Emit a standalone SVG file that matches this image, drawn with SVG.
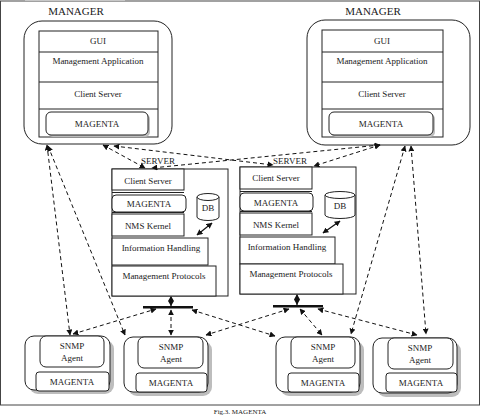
<svg xmlns="http://www.w3.org/2000/svg" width="482" height="416" viewBox="0 0 482 416">
<defs>
<style>
.t{font-family:"Liberation Serif","Times New Roman",serif;font-size:9px;fill:#1a1a1a;text-anchor:middle}
.big{font-size:11px}
.b{fill:#fff;stroke:#222;stroke-width:1}
.sh{fill:#bdbdbd;stroke:none}
.d{fill:none;stroke:#111;stroke-width:1;stroke-dasharray:4 3;marker-start:url(#ah);marker-end:url(#ah)}
.s{fill:none;stroke:#111;stroke-width:1.2;marker-start:url(#ah);marker-end:url(#ah)}
</style>
<marker id="ah" viewBox="0 0 10 10" refX="9" refY="5" markerWidth="6" markerHeight="6" orient="auto-start-reverse" markerUnits="userSpaceOnUse">
<path d="M0,0 L10,5 L0,10 z" fill="#111"/>
</marker>
</defs>
<rect x="0.5" y="1" width="479" height="404" fill="#fff" stroke="#444" stroke-width="1"/>
<line x1="25" y1="0.5" x2="125" y2="0.5" stroke="#c8c8c8" stroke-width="1"/>

<g id="manager-left">
<text class="t big" x="76" y="15">MANAGER</text>
<rect class="b" x="24" y="21" width="148" height="123" rx="18"/>
<rect class="b" x="39" y="31" width="119" height="106"/>
<line x1="39" y1="52" x2="158" y2="52" stroke="#222"/>
<line x1="39" y1="82" x2="158" y2="82" stroke="#222"/>
<line x1="39" y1="109" x2="158" y2="109" stroke="#222"/>
<rect class="sh" x="48" y="114" width="102" height="23" rx="5"/>
<rect class="b" x="46" y="112" width="102" height="23" rx="5"/>
<text class="t" x="98" y="44">GUI</text>
<text class="t" x="98" y="64">Management Application</text>
<text class="t" x="98" y="97">Client Server</text>
<text class="t" x="97" y="127">MAGENTA</text>
</g>

<g id="manager-right">
<text class="t big" x="373" y="15">MANAGER</text>
<rect class="b" x="307" y="20" width="163" height="125" rx="18"/>
<rect class="b" x="322" y="30" width="121" height="107"/>
<line x1="322" y1="52" x2="443" y2="52" stroke="#222"/>
<line x1="322" y1="82" x2="443" y2="82" stroke="#222"/>
<line x1="322" y1="109" x2="443" y2="109" stroke="#222"/>
<rect class="sh" x="331" y="114" width="104" height="23" rx="5"/>
<rect class="b" x="329" y="112" width="104" height="23" rx="5"/>
<text class="t" x="382" y="44">GUI</text>
<text class="t" x="382" y="64">Management Application</text>
<text class="t" x="382" y="97">Client Server</text>
<text class="t" x="381" y="127">MAGENTA</text>
</g>

<g id="server-left">
<text class="t" x="158" y="164">SERVER</text>
<rect class="b" x="112" y="169" width="116" height="127"/>
<rect class="b" x="112" y="169" width="72" height="21"/>
<line x1="112" y1="192.5" x2="184" y2="192.5" stroke="#222"/>
<rect class="b" x="112" y="195" width="74" height="17" rx="4"/>
<line x1="112" y1="212.5" x2="184" y2="212.5" stroke="#222"/>
<rect class="b" x="112" y="214" width="72" height="22"/>
<rect class="b" x="112" y="238" width="96" height="27"/>
<rect class="b" x="112" y="266" width="104" height="30"/>
<path class="b" d="M197,197 v20 a11,3.5 0 0 0 22,0 v-20"/>
<ellipse class="b" cx="208" cy="197" rx="11" ry="3.5"/>
<text class="t" x="148" y="184">Client Server</text>
<text class="t" x="149" y="207">MAGENTA</text>
<text class="t" x="208" y="211">DB</text>
<text class="t" x="148" y="229">NMS Kernel</text>
<text class="t" x="161" y="251">Information Handling</text>
<text class="t" x="164" y="279">Management Protocols</text>
</g>

<g id="server-right">
<text class="t" x="290" y="164">SERVER</text>
<rect class="b" x="240" y="167" width="116" height="127"/>
<rect class="b" x="240" y="167" width="72" height="22"/>
<line x1="240" y1="191.5" x2="312" y2="191.5" stroke="#222"/>
<rect class="b" x="240" y="193" width="73" height="18" rx="4"/>
<line x1="240" y1="211.5" x2="312" y2="211.5" stroke="#222"/>
<rect class="b" x="240" y="213" width="72" height="22"/>
<rect class="b" x="240" y="237" width="95" height="27"/>
<rect class="b" x="240" y="264" width="103" height="30"/>
<path class="b" d="M325,195 v20 a15,3.5 0 0 0 30,0 v-20"/>
<ellipse class="b" cx="340" cy="195" rx="15" ry="3.5"/>
<text class="t" x="276" y="181">Client Server</text>
<text class="t" x="276" y="206">MAGENTA</text>
<text class="t" x="340" y="209">DB</text>
<text class="t" x="276" y="228">NMS Kernel</text>
<text class="t" x="287" y="250">Information Handling</text>
<text class="t" x="291" y="277">Management Protocols</text>
</g>

<g id="bus-left">
<rect x="143" y="306" width="50" height="2.5" fill="#111"/>
<line x1="171" y1="306" x2="171" y2="297" stroke="#111" stroke-width="1.2"/>
<path d="M171,296 L174,301 L171,306 L168,301 z" fill="#111"/>
</g>
<g id="bus-right">
<rect x="273" y="305" width="50" height="2.5" fill="#111"/>
<line x1="297" y1="305" x2="297" y2="295" stroke="#111" stroke-width="1.2"/>
<path d="M297,294 L300,299.5 L297,305 L294,299.5 z" fill="#111"/>
</g>

<g id="agent-1">
<rect class="sh" x="29" y="340" width="85" height="54" rx="9"/>
<rect class="b" x="25" y="336" width="85" height="54" rx="9"/>
<rect class="b" x="40" y="336" width="64" height="31" rx="6"/>
<rect class="b" x="36" y="372" width="73" height="19" rx="3"/>
<text class="t" x="72" y="349">SNMP</text>
<text class="t" x="72" y="361">Agent</text>
<text class="t" x="72" y="385">MAGENTA</text>
</g>
<g id="agent-2">
<rect class="sh" x="128" y="341" width="84" height="55" rx="9"/>
<rect class="b" x="124" y="337" width="84" height="55" rx="9"/>
<rect class="b" x="138" y="337" width="65" height="31" rx="6"/>
<rect class="b" x="136" y="373" width="71" height="19" rx="3"/>
<text class="t" x="171" y="350">SNMP</text>
<text class="t" x="171" y="362">Agent</text>
<text class="t" x="171" y="386">MAGENTA</text>
</g>
<g id="agent-3">
<rect class="sh" x="280" y="341" width="84" height="55" rx="9"/>
<rect class="b" x="276" y="337" width="84" height="55" rx="9"/>
<rect class="b" x="291" y="337" width="64" height="31" rx="6"/>
<rect class="b" x="288" y="373" width="71" height="19" rx="3"/>
<text class="t" x="323" y="350">SNMP</text>
<text class="t" x="323" y="362">Agent</text>
<text class="t" x="323" y="386">MAGENTA</text>
</g>
<g id="agent-4">
<rect class="sh" x="377" y="342" width="84" height="55" rx="9"/>
<rect class="b" x="373" y="338" width="84" height="55" rx="9"/>
<rect class="b" x="388" y="338" width="65" height="31" rx="6"/>
<rect class="b" x="386" y="373" width="71" height="19" rx="3"/>
<text class="t" x="420" y="351">SNMP</text>
<text class="t" x="420" y="363">Agent</text>
<text class="t" x="421" y="386">MAGENTA</text>
</g>

<g id="connectors">
<line class="d" x1="103" y1="145" x2="145" y2="168"/>
<line class="d" x1="114" y1="146" x2="273" y2="165"/>
<line class="d" x1="380" y1="145" x2="152" y2="168"/>
<line class="d" x1="380" y1="145" x2="314" y2="166"/>
<line class="d" x1="47" y1="145" x2="70" y2="335"/>
<line class="d" x1="48" y1="146" x2="125" y2="335"/>
<line class="d" x1="405" y1="146" x2="351" y2="334"/>
<line class="d" x1="411" y1="146" x2="426" y2="334"/>
<line class="d" x1="73" y1="334" x2="156" y2="309"/>
<line class="d" x1="171" y1="310" x2="171" y2="335"/>
<line class="d" x1="192" y1="310" x2="275" y2="336"/>
<line class="d" x1="289" y1="309" x2="206" y2="335"/>
<line class="d" x1="300" y1="309" x2="322" y2="335"/>
<line class="d" x1="318" y1="309" x2="417" y2="335"/>
<line class="s" x1="197" y1="235" x2="212" y2="223"/>
<line class="s" x1="323" y1="233" x2="340" y2="221"/>
</g>

<text class="t" x="240" y="414" style="font-size:7px">Fig.3. MAGENTA</text>
</svg>
